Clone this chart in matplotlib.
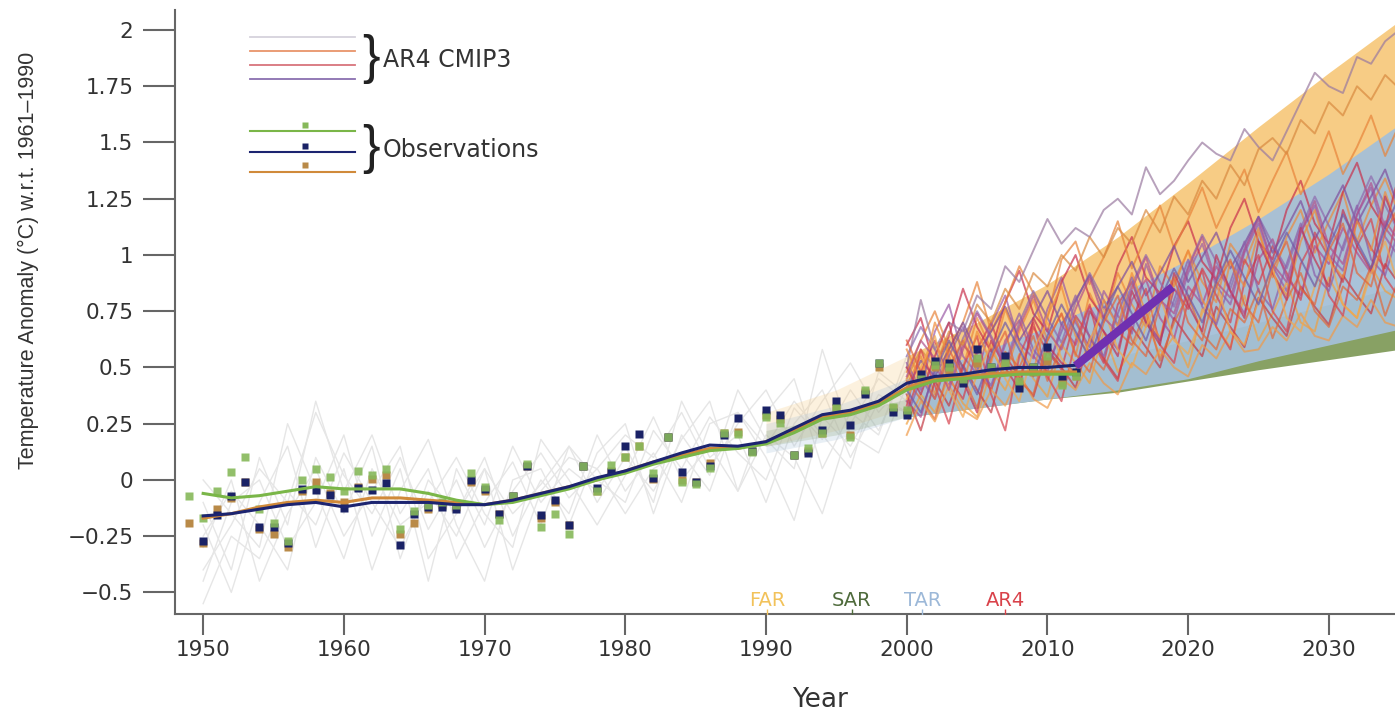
import numpy as np
import matplotlib
matplotlib.use("Agg")
import matplotlib.pyplot as plt

plt.rcParams["font.family"] = ["DejaVu Sans"]

# Observed annual anomalies (three datasets)
obs_years = np.arange(1949, 2013)
obs_green = [-0.07, -0.17, -0.05, 0.035, 0.10, -0.13, -0.19, -0.27, 0.00, 0.05,
             0.015, -0.05, 0.04, 0.02, 0.05, -0.22, -0.14, -0.11, -0.10, -0.11,
             0.03, -0.03, -0.18, -0.07, 0.07, -0.21, -0.15, -0.24, 0.06, -0.05,
             0.065, 0.10, 0.15, 0.03, 0.19, -0.01, -0.02, 0.055, 0.21, 0.205,
             0.125, 0.28, 0.255, 0.11, 0.14, 0.21, 0.32, 0.19, 0.40, 0.52,
             0.325, 0.31, 0.45, 0.51, 0.50, 0.45, 0.54, 0.50, 0.52, 0.44,
             0.50, 0.55, 0.42, 0.46]
obs_orange = [-0.19, -0.28, -0.13, -0.08, -0.01, -0.22, -0.24, -0.30, -0.05, -0.01,
              -0.06, -0.10, -0.03, 0.005, 0.02, -0.24, -0.19, -0.13, -0.11, -0.12,
              -0.01, -0.05, -0.15, -0.07, 0.06, -0.17, -0.10, -0.20, 0.06, -0.05,
              0.04, 0.10, 0.15, 0.005, 0.19, 0.00, -0.01, 0.075, 0.21, 0.215,
              0.13, 0.29, 0.27, 0.11, 0.13, 0.21, 0.32, 0.20, 0.39, 0.50,
              0.32, 0.30, 0.44, 0.50, 0.49, 0.44, 0.52, 0.48, 0.51, 0.42,
              0.48, 0.53, 0.43, 0.46]
navy_years = np.arange(1950, 2013)
obs_navy = [-0.27, -0.155, -0.07, -0.01, -0.21, -0.21, -0.28, -0.04, -0.045, -0.065,
            -0.125, -0.035, -0.045, -0.015, -0.29, -0.15, -0.12, -0.12, -0.13, 0.00,
            -0.04, -0.15, -0.07, 0.06, -0.155, -0.09, -0.20, 0.06, -0.035, 0.037,
            0.15, 0.205, 0.01, 0.19, 0.035, -0.01, 0.06, 0.20, 0.275, 0.13,
            0.31, 0.29, 0.11, 0.12, 0.22, 0.35, 0.245, 0.38, 0.52, 0.30,
            0.29, 0.47, 0.53, 0.52, 0.43, 0.58, 0.50, 0.55, 0.41, 0.50,
            0.59, 0.46, 0.48]

# Smoothed observational curves
smooth_years = np.arange(1950, 2013, 2)
smooth_navy = [-0.16, -0.15, -0.13, -0.11, -0.10, -0.12, -0.10, -0.10, -0.10, -0.11,
               -0.11, -0.09, -0.06, -0.03, 0.01, 0.04, 0.08, 0.12, 0.155, 0.15,
               0.17, 0.23, 0.29, 0.31, 0.35, 0.43, 0.46, 0.47, 0.49, 0.50,
               0.50, 0.51]
smooth_orange = [-0.17, -0.15, -0.12, -0.10, -0.09, -0.10, -0.08, -0.08, -0.09, -0.10,
                 -0.11, -0.09, -0.06, -0.03, 0.00, 0.04, 0.08, 0.11, 0.14, 0.14,
                 0.17, 0.22, 0.28, 0.30, 0.34, 0.41, 0.45, 0.46, 0.47, 0.48,
                 0.48, 0.48]
smooth_green = [-0.06, -0.08, -0.07, -0.05, -0.03, -0.04, -0.04, -0.04, -0.06, -0.09,
                -0.11, -0.10, -0.07, -0.04, 0.00, 0.03, 0.07, 0.10, 0.13, 0.14,
                0.16, 0.21, 0.27, 0.29, 0.33, 0.40, 0.44, 0.45, 0.46, 0.47,
                0.47, 0.47]

# Historical model runs (grey)
hist_years = np.arange(1950, 2001, 2)
hist_runs = [
    [-0.40, -0.20, 0.05, -0.10, 0.30, 0.02, -0.15, 0.10, -0.22, 0.00, -0.30, -0.05, 0.12,
     -0.08, 0.05, 0.20, 0.10, 0.30, 0.05, 0.25, 0.40, 0.15, 0.35, 0.52, 0.30, 0.45],
    [-0.55, -0.25, -0.35, -0.05, -0.20, 0.12, -0.10, -0.30, -0.05, -0.25, 0.05, -0.15, -0.02,
     0.15, -0.10, 0.10, -0.05, 0.18, 0.35, -0.05, 0.20, 0.10, -0.15, 0.25, 0.45, 0.35],
    [-0.10, -0.40, 0.10, -0.20, 0.35, -0.05, 0.20, -0.15, 0.05, -0.35, -0.10, 0.08, -0.20,
     0.15, 0.00, -0.10, 0.22, 0.05, 0.28, 0.12, 0.00, 0.32, 0.18, 0.40, 0.22, 0.50],
    [-0.30, 0.00, -0.45, -0.15, 0.05, -0.25, -0.05, 0.15, -0.35, -0.15, 0.10, -0.25, 0.00,
     -0.15, 0.20, -0.05, 0.12, -0.10, 0.25, 0.30, 0.10, -0.18, 0.28, 0.15, 0.38, 0.30],
    [-0.20, -0.50, -0.10, 0.15, -0.30, 0.05, -0.40, -0.05, 0.18, -0.20, -0.45, 0.00, 0.05,
     -0.20, 0.12, 0.25, -0.15, 0.20, 0.02, 0.40, 0.18, 0.05, 0.58, 0.20, 0.12, 0.42],
    [0.00, -0.15, -0.30, 0.25, -0.05, -0.35, 0.05, -0.20, -0.10, 0.10, -0.15, -0.30, 0.18,
     0.00, -0.20, 0.02, 0.28, 0.00, 0.15, -0.05, 0.30, 0.45, 0.05, 0.30, 0.20, 0.55],
    [-0.45, -0.10, 0.00, -0.30, -0.10, 0.20, -0.25, 0.05, -0.45, 0.05, -0.20, 0.15, -0.10,
     0.05, -0.05, 0.15, -0.10, 0.35, 0.10, 0.20, -0.10, 0.25, 0.40, 0.10, 0.35, 0.30],
    [-0.25, -0.05, -0.20, -0.40, 0.10, -0.15, 0.15, -0.35, 0.00, -0.15, 0.05, -0.40, -0.05,
     0.10, 0.05, -0.15, 0.05, 0.12, -0.05, 0.30, 0.15, 0.35, 0.20, 0.05, 0.48, 0.38],
]

# AR4 CMIP3 projection runs
proj_years = np.arange(2000, 2036)
proj_runs = [
    [0.42, 0.55, 0.38, 0.61, 0.50, 0.72, 0.58, 0.47, 0.66, 0.80, 0.62, 0.74,
     0.55, 0.83, 0.70, 0.92, 0.78, 0.68, 0.95, 0.86, 1.02, 0.88, 0.79, 1.05,
     0.96, 1.12, 0.90, 1.08, 1.20, 1.01, 1.15, 1.28, 1.06, 1.22, 1.34, 1.18],
    [0.30, 0.48, 0.62, 0.45, 0.36, 0.58, 0.70, 0.52, 0.44, 0.68, 0.57, 0.49,
     0.73, 0.64, 0.52, 0.78, 0.88, 0.71, 0.62, 0.85, 0.76, 0.94, 0.82, 0.70,
     0.98, 0.87, 1.04, 0.92, 0.80, 1.10, 0.99, 0.88, 1.16, 1.03, 0.94, 1.21],
    [0.52, 0.40, 0.66, 0.78, 0.55, 0.47, 0.69, 0.82, 0.61, 0.54, 0.76, 0.90,
     0.70, 0.59, 0.84, 0.73, 0.65, 0.96, 0.80, 0.71, 0.92, 1.05, 0.86, 0.78,
     1.01, 1.14, 0.95, 0.84, 1.10, 1.22, 1.00, 0.93, 1.18, 1.30, 1.08, 0.99],
    [0.25, 0.38, 0.30, 0.46, 0.34, 0.28, 0.49, 0.40, 0.56, 0.45, 0.37, 0.60,
     0.52, 0.43, 0.66, 0.48, 0.58, 0.72, 0.55, 0.64, 0.50, 0.76, 0.68, 0.59,
     0.82, 0.62, 0.74, 0.88, 0.70, 0.66, 0.90, 0.78, 0.72, 0.95, 0.84, 0.80],
    [0.60, 0.72, 0.50, 0.64, 0.85, 0.68, 0.57, 0.79, 0.93, 0.74, 0.66, 0.88,
     1.00, 0.81, 0.72, 0.95, 1.08, 0.90, 0.83, 1.04, 1.15, 0.97, 0.89, 1.12,
     1.25, 1.06, 0.98, 1.20, 1.33, 1.14, 1.05, 1.28, 1.41, 1.22, 1.12, 1.36],
    [0.35, 0.28, 0.50, 0.42, 0.60, 0.53, 0.40, 0.62, 0.71, 0.55, 0.48, 0.69,
     0.60, 0.77, 0.66, 0.58, 0.80, 0.89, 0.72, 0.63, 0.86, 0.78, 0.95, 0.84,
     0.74, 0.98, 1.07, 0.90, 0.82, 1.04, 0.96, 1.12, 1.01, 0.92, 1.15, 1.06],
    [0.48, 0.62, 0.75, 0.58, 0.70, 0.88, 0.66, 0.79, 0.95, 0.83, 0.72, 0.98,
     1.06, 0.87, 0.99, 1.15, 0.94, 1.08, 1.22, 1.03, 1.16, 1.30, 1.12, 1.25,
     1.38, 1.19, 1.33, 1.46, 1.27, 1.40, 1.55, 1.36, 1.48, 1.62, 1.44, 1.58],
    [0.38, 0.22, 0.44, 0.33, 0.51, 0.40, 0.30, 0.55, 0.46, 0.37, 0.58, 0.50,
     0.41, 0.63, 0.54, 0.45, 0.68, 0.59, 0.50, 0.72, 0.63, 0.55, 0.77, 0.68,
     0.59, 0.81, 0.72, 0.64, 0.86, 0.77, 0.69, 0.91, 0.82, 0.74, 0.96, 0.87],
    [0.55, 0.68, 0.58, 0.45, 0.63, 0.75, 0.64, 0.52, 0.70, 0.84, 0.72, 0.61,
     0.79, 0.92, 0.80, 0.69, 0.87, 1.00, 0.88, 0.77, 0.95, 1.09, 0.97, 0.85,
     1.03, 1.17, 1.05, 0.94, 1.12, 1.26, 1.13, 1.02, 1.21, 1.35, 1.22, 1.10],
    [0.44, 0.36, 0.27, 0.50, 0.62, 0.48, 0.40, 0.57, 0.50, 0.64, 0.44, 0.60,
     0.72, 0.56, 0.49, 0.66, 0.60, 0.75, 0.53, 0.70, 0.82, 0.65, 0.58, 0.76,
     0.70, 0.85, 0.63, 0.80, 0.92, 0.75, 0.68, 0.86, 0.80, 0.95, 0.73, 0.90],
    [0.50, 0.80, 0.58, 0.70, 0.66, 0.82, 0.76, 0.95, 0.88, 1.02, 1.16, 1.05,
     1.12, 1.08, 1.20, 1.25, 1.18, 1.39, 1.27, 1.33, 1.42, 1.50, 1.45, 1.42,
     1.56, 1.48, 1.42, 1.55, 1.68, 1.81, 1.75, 1.72, 1.88, 1.85, 1.95, 2.00],
    [0.45, 0.58, 0.50, 0.66, 0.60, 0.78, 0.70, 0.85, 0.76, 0.92, 0.86, 1.00,
     0.93, 1.08, 0.99, 1.12, 1.05, 1.20, 1.10, 1.26, 1.18, 1.33, 1.25, 1.40,
     1.31, 1.47, 1.52, 1.45, 1.60, 1.54, 1.68, 1.62, 1.75, 1.69, 1.80, 1.74],
    [0.20, 0.35, 0.26, 0.42, 0.31, 0.27, 0.40, 0.33, 0.47, 0.36, 0.32, 0.45,
     0.40, 0.52, 0.43, 0.38, 0.52, 0.47, 0.58, 0.50, 0.46, 0.60, 0.54, 0.66,
     0.57, 0.58, 0.68, 0.62, 0.74, 0.64, 0.62, 0.73, 0.68, 0.80, 0.70, 0.68],
    [0.40, 0.53, 0.46, 0.58, 0.70, 0.56, 0.66, 0.77, 0.62, 0.72, 0.84, 0.69,
     0.80, 0.91, 0.76, 0.86, 0.97, 0.82, 0.92, 1.04, 0.88, 0.99, 1.10, 0.94,
     1.05, 1.17, 1.01, 1.12, 1.24, 1.07, 1.19, 1.31, 1.14, 1.26, 1.38, 1.20],
    [0.33, 0.58, 0.42, 0.25, 0.50, 0.64, 0.38, 0.22, 0.55, 0.70, 0.46, 0.35,
     0.62, 0.78, 0.53, 0.44, 0.71, 0.85, 0.60, 0.52, 0.80, 0.93, 0.68, 0.58,
     0.88, 1.00, 0.75, 0.66, 0.96, 1.08, 0.82, 0.73, 1.04, 1.16, 0.90, 0.81],
    [0.58, 0.44, 0.70, 0.55, 0.42, 0.66, 0.52, 0.76, 0.60, 0.48, 0.73, 0.86,
     0.64, 0.56, 0.80, 0.68, 0.92, 0.74, 0.63, 0.88, 1.02, 0.80, 0.70, 0.97,
     0.86, 1.10, 0.92, 0.82, 1.06, 1.20, 0.98, 0.90, 1.15, 1.02, 1.28, 1.10],
    [0.28, 0.45, 0.36, 0.55, 0.68, 0.50, 0.42, 0.60, 0.74, 0.58, 0.50, 0.66,
     0.82, 0.63, 0.55, 0.74, 0.90, 0.70, 0.62, 0.80, 0.98, 0.77, 0.69, 0.88,
     1.06, 0.84, 0.76, 0.96, 1.14, 0.91, 0.84, 1.04, 1.22, 0.98, 0.91, 1.12],
    [0.50, 0.38, 0.55, 0.70, 0.44, 0.30, 0.62, 0.50, 0.40, 0.72, 0.60, 0.52,
     0.48, 0.75, 0.66, 0.55, 0.84, 0.70, 0.60, 0.92, 0.78, 0.66, 1.00, 0.84,
     0.72, 1.06, 0.92, 0.80, 1.12, 0.98, 0.86, 1.20, 1.04, 0.93, 1.26, 1.10],
    [0.36, 0.50, 0.64, 0.40, 0.28, 0.47, 0.60, 0.45, 0.35, 0.58, 0.70, 0.54,
     0.46, 0.62, 0.76, 0.58, 0.50, 0.68, 0.82, 0.62, 0.56, 0.74, 0.88, 0.66,
     0.60, 0.80, 0.94, 0.72, 0.66, 0.86, 1.00, 0.78, 0.72, 0.92, 1.06, 0.85],
    [0.46, 0.62, 0.54, 0.40, 0.58, 0.74, 0.63, 0.50, 0.68, 0.82, 0.66, 0.58,
     0.76, 0.90, 0.72, 0.66, 0.85, 0.99, 0.80, 0.74, 0.94, 1.08, 0.88, 0.81,
     1.02, 1.16, 0.96, 0.88, 1.10, 1.24, 1.04, 0.96, 1.18, 1.32, 1.12, 1.04],
    [0.62, 0.48, 0.36, 0.58, 0.46, 0.32, 0.54, 0.66, 0.44, 0.38, 0.62, 0.74,
     0.56, 0.48, 0.70, 0.82, 0.62, 0.55, 0.78, 0.90, 0.70, 0.62, 0.86, 0.98,
     0.78, 0.70, 0.94, 1.06, 0.85, 0.78, 1.02, 1.14, 0.92, 0.86, 1.10, 1.22],
    [0.40, 0.30, 0.48, 0.62, 0.50, 0.38, 0.56, 0.70, 0.58, 0.46, 0.64, 0.78,
     0.66, 0.54, 0.72, 0.86, 0.74, 0.62, 0.80, 0.94, 0.82, 0.70, 0.88, 1.02,
     0.90, 0.78, 0.96, 1.10, 0.98, 0.86, 1.04, 1.18, 1.06, 0.94, 1.12, 1.26],
]
proj_colors = ["#ec8a3c", "#d23f4e", "#9a5aa6", "#f0a040", "#c8304c", "#b04c90",
               "#e8843a", "#c43a44", "#8e6aae", "#e06a3a", "#9a7aa0", "#d98a40",
               "#f09a48", "#7e4e9e", "#d8434e", "#f08c3a", "#8c5eaa", "#c23252",
               "#f3a94e", "#b0508e", "#e2663c", "#6f5aa8"]

# Assessment report ranges (FAR, SAR, TAR)
band_years = np.array([1990, 1995, 2000, 2005, 2010, 2015, 2020, 2025, 2030, 2035])
far_lo = [0.15, 0.22, 0.32, 0.40, 0.48, 0.57, 0.67, 0.77, 0.88, 0.98]
far_hi = [0.30, 0.40, 0.55, 0.70, 0.87, 1.08, 1.32, 1.57, 1.81, 2.04]
sar_lo = [0.15, 0.20, 0.28, 0.32, 0.36, 0.39, 0.44, 0.49, 0.535, 0.58]
sar_hi = [0.22, 0.28, 0.36, 0.42, 0.48, 0.55, 0.62, 0.70, 0.78, 0.86]
tar_lo = [0.12, 0.18, 0.28, 0.32, 0.36, 0.40, 0.45, 0.53, 0.60, 0.67]
tar_hi = [0.25, 0.33, 0.45, 0.56, 0.68, 0.82, 0.98, 1.16, 1.36, 1.58]

# Highlighted trend segment
trend_years = [2012.0, 2018.9]
trend_vals = [0.507, 0.858]

report_labels = ["FAR", "SAR", "TAR", "AR4"]
report_years = [1990.1, 1996.1, 2001.1, 2007.0]
report_colors = ["#f2c25a", "#4f6b3c", "#9cb8d8", "#d9424a"]

yticks = [-0.5, -0.25, 0, 0.25, 0.5, 0.75, 1, 1.25, 1.5, 1.75, 2]
ytick_labels = ["\u22120.5", "\u22120.25", "0", "0.25", "0.5", "0.75", "1",
                "1.25", "1.5", "1.75", "2"]
xticks = [1950, 1960, 1970, 1980, 1990, 2000, 2010, 2020, 2030]

fig = plt.figure(figsize=(13.95, 7.15), dpi=100)
ax = fig.add_axes([175 / 1395, 101 / 715, 1 - 175 / 1395, 604 / 715])

# grey historical runs
for run in hist_runs:
    ax.plot(hist_years, run, color="#e6e6e6", lw=1.0, zorder=1)

# report ranges, faint before 2000
pre = band_years <= 2000
post = band_years >= 2000
for lo, hi, col in [(far_lo, far_hi, "#f7ca7e"), (sar_lo, sar_hi, "#829c5c"),
                    (tar_lo, tar_hi, "#a5c0d8")]:
    lo = np.array(lo)
    hi = np.array(hi)
    ax.fill_between(band_years[pre], lo[pre], hi[pre], color=col, alpha=0.25,
                    lw=0, zorder=2)
    ax.fill_between(band_years[post], lo[post], hi[post], color=col, alpha=0.95,
                    lw=0, zorder=2)

# projection runs
for run, col in zip(proj_runs, proj_colors):
    ax.plot(proj_years, run, color=col, lw=1.4, alpha=0.7, zorder=3)

# observations
ax.plot(obs_years, obs_orange, "s", color="#b98a48", ms=5.5, mec="none", zorder=4)
ax.plot(navy_years, obs_navy, "s", color="#1a2266", ms=5.5, mec="none", zorder=4)
ax.plot(obs_years, obs_green, "s", color="#86b85a", ms=5.5, mec="none", alpha=0.9, zorder=4)
ax.plot(smooth_years, smooth_orange, color="#d08a3a", lw=2.2, zorder=5)
ax.plot(smooth_years, smooth_green, color="#7ab648", lw=2.2, zorder=5)
ax.plot(smooth_years, smooth_navy, color="#1c2470", lw=2.2, zorder=5)

ax.plot(trend_years, trend_vals, color="#7030b0", lw=6, solid_capstyle="butt", zorder=6)

# report labels along the bottom
for lab, yr, col in zip(report_labels, report_years, report_colors):
    ax.text(yr, -0.535, lab, color=col, fontsize=14, ha="center", va="center")
    ax.plot([yr], [-0.585], marker="|", ms=5, color=col, zorder=6)

ax.set_xlim(1948.0, 2034.7)
ax.set_ylim(-0.596, 2.089)
ax.set_yticks(yticks)
ax.set_yticklabels(ytick_labels)
ax.set_xticks(xticks)

for s in ["top", "right"]:
    ax.spines[s].set_visible(False)
for s in ["left", "bottom"]:
    ax.spines[s].set_color("#666666")
    ax.spines[s].set_linewidth(1.5)
ax.tick_params(axis="y", length=23, width=1.5, color="#666666", pad=7,
               labelsize=15.5, labelcolor="#333333")
ax.tick_params(axis="x", length=15, width=1.5, color="#666666", pad=4,
               labelsize=15.5, labelcolor="#333333")

fig.text(28 / 1395, 1 - 260 / 715, "Temperature Anomaly (\u00b0C) w.r.t. 1961\u20131990",
         rotation=90, ha="center", va="center", fontsize=15.5, color="#333333",
         family=["Liberation Sans Narrow", "DejaVu Sans Condensed", "Liberation Sans"])
fig.text(820 / 1395, 1 - 700 / 715, "Year", ha="center", va="center",
         fontsize=19, color="#333333")

# hand-drawn legend
def ax_xy(px, py):
    return (px - 175) / 1220, (614 - py) / 604

leg_cmip = ["#d6d2dc", "#e8946a", "#d8747c", "#8a70b0"]
for py, col in zip([37, 51, 65, 79], leg_cmip):
    (x0, y0), (x1, _) = ax_xy(250, py), ax_xy(355, py)
    ax.plot([x0, x1], [y0, y0], color=col, lw=1.3, transform=ax.transAxes, clip_on=False)

leg_obs = [("#7ab648", "#86b85a", 131, 125), ("#1c2470", "#1a2266", 152, 146),
           ("#d08a3a", "#b98a48", 172, 165)]
for lcol, mcol, py, my in leg_obs:
    (x0, y0), (x1, _) = ax_xy(250, py), ax_xy(355, py)
    ax.plot([x0, x1], [y0, y0], color=lcol, lw=1.5, transform=ax.transAxes, clip_on=False)
    mx, myy = ax_xy(305, my)
    ax.plot([mx], [myy], "s", color=mcol, ms=4, mec="none", transform=ax.transAxes,
            clip_on=False)

for py, txt in [(59, "AR4 CMIP3"), (149, "Observations")]:
    bx, by = ax_xy(371, py)
    ax.text(bx, by, "}", transform=ax.transAxes, ha="center", va="center",
            fontsize=38, color="#222222", family="Liberation Sans")
    tx, ty = ax_xy(383, py + 1)
    ax.text(tx, ty, txt, transform=ax.transAxes, ha="left", va="center",
            fontsize=17, color="#333333")

fig.savefig("out.png", dpi=100)
